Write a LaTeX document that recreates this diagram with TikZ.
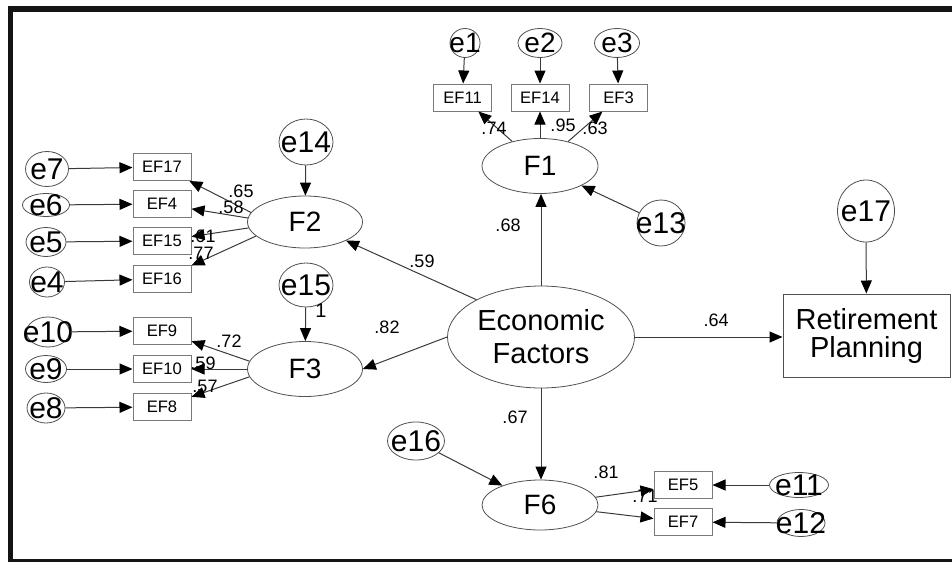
\documentclass[tikz,border=0pt]{standalone}
\usepackage{fontspec}
\setmainfont{Liberation Sans}
\usetikzlibrary{shapes.geometric,arrows.meta}
\definecolor{frm}{HTML}{141414}
\definecolor{ln}{HTML}{3A3A3A}
\definecolor{ol}{HTML}{505050}
\definecolor{bx}{HTML}{7A7A7A}
\begin{document}
\begin{tikzpicture}[x=0.5pt,y=-0.5pt,
  el/.style 2 args={ellipse,draw=ol,line width=0.4pt,minimum width=#1*0.5pt,minimum height=#2*0.5pt,inner sep=0pt},
  ev/.style={font=\fontsize{15}{15}\selectfont,inner sep=0pt},
  evs/.style={font=\fontsize{14}{14}\selectfont,inner sep=0pt},
  lat/.style={font=\fontsize{14}{14}\selectfont},
  bxs/.style={rectangle,draw=bx,line width=0.5pt,minimum width=29pt,minimum height=13.5pt,inner sep=0pt,font=\fontsize{8.3}{8.3}\selectfont},
  ld/.style={font=\fontsize{9}{9}\selectfont,inner sep=0pt},
  arr/.style={draw=ln,line width=0.5pt,-{Triangle[length=6.5pt,width=5.5pt,color=black]}}
]
\useasboundingbox (0,0) rectangle (952,562);
% frame
\fill[frm] (8,6) rectangle (952,12);
\fill[frm] (8,6) rectangle (13,562);
\fill[frm] (8,559) rectangle (952,562);

% latent factors
\node[el={116}{55},lat] (F1) at (540,166) {F1};
\node[el={115}{52},lat] (F2) at (305,222) {F2};
\node[el={115}{55},lat] (F3) at (305,369) {F3};
\node[el={116}{50},lat] (F6) at (540,505) {F6};
\node[el={187}{102},align=center,font=\fontsize{14.5}{16.5}\selectfont] (EF) at (541,337) {Economic\\Factors};
\node[rectangle,draw=ol,line width=0.5pt,minimum width=83.5pt,minimum height=41.5pt,inner sep=0pt,align=center,font=\fontsize{14.5}{14}\selectfont] (RP) at (866.5,335.5) {Retirement\\Planning};

% indicators F1
\node[bxs] (EF11) at (462.5,97.5) {EF11};
\node[bxs] (EF14) at (540,97.5) {EF14};
\node[bxs] (EF3) at (618.5,97.5) {EF3};
% indicators F2
\node[bxs] (EF17) at (162,167) {EF17};
\node[bxs] (EF4) at (162,204) {EF4};
\node[bxs] (EF15) at (162,241) {EF15};
\node[bxs] (EF16) at (162,279) {EF16};
% indicators F3
\node[bxs] (EF9) at (162,331) {EF9};
\node[bxs] (EF10) at (162,369) {EF10};
\node[bxs] (EF8) at (162,407) {EF8};
% indicators F6
\node[bxs] (EF5) at (683,485) {EF5};
\node[bxs] (EF7) at (683,522) {EF7};

% error terms
\node[el={30}{29},label={[evs]center:e1}] (e1) at (465,43) {};
\node[el={44}{29},label={[evs]center:e2}] (e2) at (540,43) {};
\node[el={45}{29},label={[evs]center:e3}] (e3) at (617,43) {};
\node[el={43}{35},label={[ev]center:e7}] (e7) at (47,169) {};
\node[el={47}{23},label={[ev]center:e6}] (e6) at (46,205) {};
\node[el={40}{29},label={[ev]center:e5}] (e5) at (46,242) {};
\node[el={35}{30},label={[ev]center:e4}] (e4) at (47,282) {};
\node[el={43}{30},label={[ev]center:e10}] (e10) at (48,332) {};
\node[el={41}{27},label={[ev]center:e9}] (e9) at (46,369) {};
\node[el={38}{30},label={[ev]center:e8}] (e8) at (46,408) {};
\node[el={54}{46},label={[ev]center:e14}] (e14) at (306,142) {};
\node[el={54}{44},label={[ev]center:e15}] (e15) at (306,285) {};
\node[el={48}{46},label={[ev]center:e13}] (e13) at (661,223) {};
\node[el={57}{62},label={[ev]center:e17}] (e17) at (866,211) {};
\node[el={57}{38},label={[ev]center:e16}] (e16) at (416,441) {};
\node[el={59}{25},label={[ev]center:e11}] (e11) at (799,485) {};
\node[el={48}{27},label={[ev]center:e12}] (e12) at (801,523) {};

% error arrows
\draw[arr] (e1) -- (EF11);
\draw[arr] (e2) -- (EF14);
\draw[arr] (e3) -- (EF3);
\draw[arr] (e7) -- (EF17);
\draw[arr] (e6) -- (EF4);
\draw[arr] (e5) -- (EF15);
\draw[arr] (e4) -- (EF16);
\draw[arr] (e10) -- (EF9);
\draw[arr] (e9) -- (EF10);
\draw[arr] (e8) -- (EF8);
\draw[arr] (e14) -- (F2);
\draw[arr] (e15) -- (F3);
\draw[arr] (e13) -- (F1);
\draw[arr] (e17) -- (RP);
\draw[arr] (e16) -- (F6);
\draw[arr] (e11) -- (EF5);
\draw[arr] (e12) -- (EF7);

% loadings
\draw[arr] (F1) -- (EF11);
\draw[arr] (F1) -- (EF14);
\draw[arr] (F1) -- (EF3);
\draw[arr] (F2.170) -- (EF17);
\draw[arr] (F2.176) -- (EF4);
\draw[arr] (F2.186) -- (EF15);
\draw[arr] (F2.196) -- (EF16);
\draw[arr] (F3.172) -- (EF9);
\draw[arr] (F3.west) -- (F3.west -| EF10.east);
\draw[arr] (F3.188) -- (EF8);
\draw[arr] (F6) -- (EF5);
\draw[arr] (F6) -- (EF7);

% structural paths
\draw[arr] (EF.north) -- (EF.north |- F1.south);
\draw[arr] (EF.150) -- (F2);
\draw[arr] (EF.west) -- (F3.east);
\draw[arr] (EF.south) -- (EF.south |- F6.north);
\draw[arr] (EF.east) -- (EF.east -| RP.west);

% coefficient labels
\node[ld] (l74) at (494,128) {.74};
\node[ld] (l95) at (563,125) {.95};
\node[ld] (l63) at (595,128) {.63};
\node[ld] (l65) at (241,191) {.65};
\node[ld] (l58) at (231,207) {.58};
\node[ld] (l61) at (203,236) {.61};
\node[ld] (l77) at (201,253) {.77};
\node[ld] (l72) at (229,341) {.72};
\node[ld] (l59b) at (203,363) {.59};
\node[ld] (l57) at (205,386) {.57};
\node[ld] (l68) at (508,225) {.68};
\node[ld] (l59) at (422,261) {.59};
\node[ld] (l82) at (387,327) {.82};
\node[ld] (l64) at (716,320) {.64};
\node[ld] (l67) at (515,417) {.67};
\node[ld] (l81) at (606,472) {.81};
\node[ld] (l71) at (645,496) {.71};
\node[ld,font=\fontsize{10}{10}\selectfont] (l1) at (321,311) {1};
\end{tikzpicture}
\end{document}
